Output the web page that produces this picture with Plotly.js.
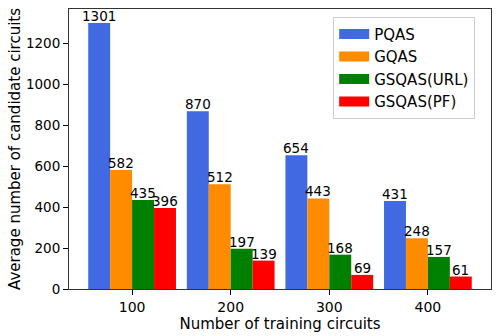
<!DOCTYPE html>
<html>
<head>
<meta charset="utf-8">
<script src="https://cdn.plot.ly/plotly-3.0.1.min.js"></script>
<style>
  html, body { margin: 0; padding: 0; background: #fff; }
  #chart { width: 498px; height: 336px; }
</style>
</head>
<body>
<div id="chart"></div>
<script>
// data
const groups = ["100", "200", "300", "400"];
const seriesNames = ["PQAS", "GQAS", "GSQAS(URL)", "GSQAS(PF)"];
const pqas = [1301, 870, 654, 431];
const gqas = [582, 512, 443, 248];
const gsqasUrl = [435, 197, 168, 157];
const gsqasPf = [396, 139, 69, 61];
const colors = ["#4169E1", "#FF8C00", "#008000", "#FF0000"];

const FONT = "DejaVu Sans, sans-serif";
const allValues = [pqas, gqas, gsqasUrl, gsqasPf];
const BARGAP = 0.11;
const barWidth = (1 - BARGAP) / allValues.length;

let traces = allValues.map((vals, i) => {
  return {
    type: "bar",
    name: seriesNames[i],
    x: groups.map((g, k) => k),
    y: vals,
    marker: { color: colors[i], line: { width: 0 } },
    showlegend: false,
    hoverinfo: "y+name",
  };
});

// legend proxies: thick lines give matplotlib-like wide patches
let legendTraces = seriesNames.map((name, i) => {
  return {
    type: "scatter",
    mode: "lines",
    name: name,
    x: [null],
    y: [null],
    line: { color: colors[i], width: 10 },
    showlegend: true,
  };
});

// value labels sitting on top of each bar
let annotations = [];
allValues.forEach((vals, i) => {
  let offset = (i - (allValues.length - 1) / 2) * barWidth;
  vals.forEach((v, k) => {
    annotations.push({
      x: k + offset,
      y: v,
      xref: "x",
      yref: "y",
      text: String(v),
      showarrow: false,
      yanchor: "bottom",
      xanchor: "center",
      yshift: -3,
      font: { family: FONT, size: 13.5, color: "#000" },
    });
  });
});

let layout = {
  width: 498,
  height: 336,
  margin: { l: 69, r: 7, t: 9, b: 47 },
  paper_bgcolor: "#fff",
  plot_bgcolor: "#fff",
  barmode: "group",
  bargap: BARGAP,
  bargroupgap: 0,
  font: { family: FONT, size: 15, color: "#000" },
  annotations: annotations,
  xaxis: {
    range: [-0.64, 3.64],
    tickvals: [0, 1, 2, 3],
    ticktext: groups,
    ticks: "outside",
    ticklen: 5,
    tickcolor: "#000",
    showline: true,
    mirror: true,
    linecolor: "#333",
    linewidth: 1,
    showgrid: false,
    zeroline: false,
    tickfont: { family: FONT, size: 14 },
    title: { text: "Number of training circuits", font: { family: FONT, size: 15 }, standoff: 0 },
  },
  yaxis: {
    range: [0, 1370],
    tickvals: [0, 200, 400, 600, 800, 1000, 1200],
    ticks: "outside",
    ticklen: 5,
    tickcolor: "#000",
    showline: true,
    mirror: true,
    linecolor: "#333",
    linewidth: 1,
    showgrid: false,
    zeroline: false,
    tickfont: { family: FONT, size: 13.5 },
    title: { text: "Average number of candidate circuits", font: { family: FONT, size: 15 }, standoff: 1 },
  },
  legend: {
    x: 0.626,
    y: 0.972,
    xanchor: "left",
    yanchor: "top",
    bgcolor: "#fff",
    bordercolor: "#ccc",
    borderwidth: 1,
    font: { family: FONT, size: 15 },
  },
  showlegend: true,
};

Plotly.newPlot("chart", traces.concat(legendTraces), layout, { staticPlot: true, displayModeBar: false });
</script>
</body>
</html>
